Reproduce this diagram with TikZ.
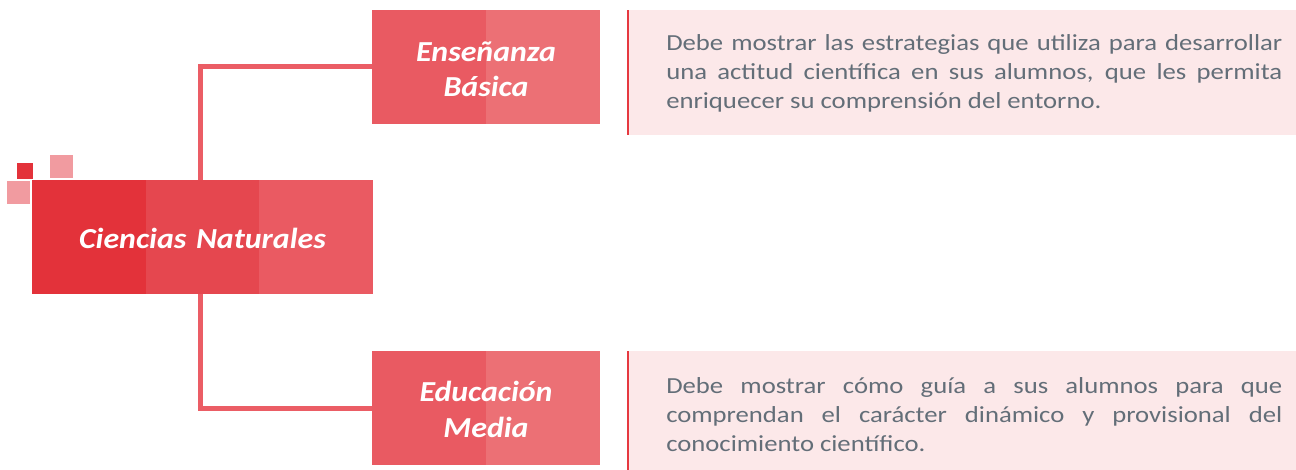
\documentclass[tikz,border=0pt]{standalone}
\usepackage{fontspec}
\setmainfont{Carlito}
\newfontfamily\descfont[FakeStretch=1.16]{Carlito}
\newfontfamily\lblfont[FakeStretch=1.1]{Carlito}
\definecolor{cA}{HTML}{E3323A}
\definecolor{cB}{HTML}{E5474F}
\definecolor{cC}{HTML}{EA5A62}
\definecolor{tA}{HTML}{E95A62}
\definecolor{tB}{HTML}{EC7075}
\definecolor{sqPink}{HTML}{F19BA0}
\definecolor{sqLight}{HTML}{F7C5C8}
\definecolor{panel}{HTML}{FCE8E9}
\definecolor{bar}{HTML}{E63940}
\definecolor{txt}{HTML}{636E78}
\definecolor{conn}{HTML}{EB5D65}
\begin{document}
\begin{tikzpicture}[x=0.75pt,y=-0.75pt,
  conn/.style={draw=conn,line width=3.75pt},
  lbl/.style={text=white,font=\lblfont\fontsize{21.75}{26.25}\selectfont\bfseries\itshape,text width=171pt,align=center,inner sep=0pt,anchor=base},
  desc/.style={text=txt,font=\descfont\fontsize{17.25}{21.75}\selectfont,text width=462pt,align=justify,inner sep=0pt,anchor=base west,execute at begin node={\hyphenpenalty=10000\relax}}]
\useasboundingbox (0,0) rectangle (1296,470);
% node frames
\node[inner sep=0pt,minimum width=171pt,minimum height=85.5pt] (top) at (486,67) {};
\node[inner sep=0pt,minimum width=171pt,minimum height=85.5pt] (bot) at (486,408) {};
\node[inner sep=0pt,minimum width=255.75pt,minimum height=85.5pt] (main) at (202.5,237) {};
% connectors
\coordinate (spine) at (200,237);
\draw[conn] (top.west) -| (spine) |- (bot.west);
% small squares
\fill[cA] (17,163) rectangle (33,179);
\fill[sqPink] (50,155) rectangle (73,178);
\fill[sqPink] (7,181) rectangle (30,204);
\fill[sqLight] (34,183) rectangle (50,199);
% main box
\fill[cA] (32,180) rectangle (146,294);
\fill[cB] (146,180) rectangle (259,294);
\fill[cC] (259,180) rectangle (373,294);
\node[lbl,text width=255pt] (mainlbl) at (202.5,249) {Ciencias Naturales};
% top box
\fill[tA] (372,10) rectangle (486,124);
\fill[tB] (486,10) rectangle (600,124);
\node[lbl] (toplbl) at (486,62) {Enseñanza\\Básica};
% bottom box
\fill[tA] (372,351) rectangle (486,465);
\fill[tB] (486,351) rectangle (600,465);
\node[lbl] (botlbl) at (486,402) {Educación\\Media};
% panels
\fill[panel] (628,10) rectangle (1296,135);
\fill[bar] (626.5,10) rectangle (629,135);
\fill[panel] (628,351) rectangle (1296,470);
\fill[bar] (626.5,351) rectangle (629,470);
\node[desc] (d1) at (666,51) {Debe mostrar las estrategias que utiliza para desarrollar\linebreak una actitud científica en sus alumnos, que les permita\linebreak enriquecer su comprensión del entorno.};
\node[desc] (d2) at (666,393) {Debe mostrar cómo guía a sus alumnos para que\linebreak comprendan el carácter dinámico y provisional del\linebreak conocimiento científico.};
\end{tikzpicture}
\end{document}
